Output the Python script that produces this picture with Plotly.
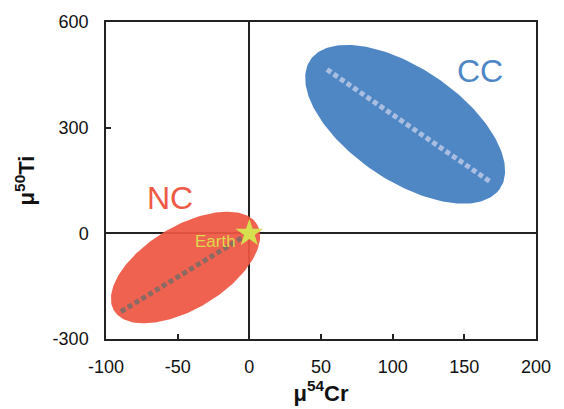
import numpy as np
import plotly.graph_objects as go

# Groups (ellipses): centre and conjugate semi-axis vectors, in data units
groups = ["NC", "CC"]
center_x = [-44.5, 108.7]
center_y = [-97.0, 309.6]
major_dx = [49.7, 65.9]
major_dy = [123.8, -184.2]
minor_dx = [-15.5, 22.8]
minor_dy = [99.0, 129.9]
fill_colors = ["rgba(238,86,66,0.93)", "rgba(79,135,197,1)"]

# Trend lines inside the ellipses
trend_x = [[-89.5, 0.0], [54.2, 168.6]]
trend_y = [[-222.0, 0.0], [465.0, 145.0]]
trend_colors = ["#8A6A62", "#A9BEE0"]

# Labels
label_text = ["NC", "CC"]
label_x = [-55.2, 160.6]
label_y = [100.0, 461.0]
label_colors = ["#EE5A45", "#4F87C5"]

earth_x = [0.0]
earth_y = [0.0]

x_ticks = [-100, -50, 0, 50, 100, 150, 200]
x_ticktext = ["-100", "-50", "0", "50", "100", "150", "200"]
y_ticks = [-300, 0, 300, 600]
y_ticktext = ["-300", "0", "300", "600"]

FONT = "Liberation Sans, Arial, sans-serif"

fig = go.Figure()
t = np.linspace(0, 2 * np.pi, 200)
for i, g in enumerate(groups):
    ex = center_x[i] + major_dx[i] * np.cos(t) + minor_dx[i] * np.sin(t)
    ey = center_y[i] + major_dy[i] * np.cos(t) + minor_dy[i] * np.sin(t)
    fig.add_trace(go.Scatter(x=ex, y=ey, mode="lines", fill="toself",
                             fillcolor=fill_colors[i], line=dict(width=0),
                             hoverinfo="skip", showlegend=False))
for i, g in enumerate(groups):
    fig.add_trace(go.Scatter(x=trend_x[i], y=trend_y[i], mode="lines",
                             line=dict(color=trend_colors[i], width=5, dash="5px,3px"),
                             showlegend=False, hoverinfo="skip"))

fig.add_trace(go.Scatter(x=earth_x, y=earth_y, mode="markers",
                         marker=dict(symbol="star", size=21, color="#D6E04E",
                                     line=dict(width=0)),
                         showlegend=False))

for i in range(len(label_text)):
    fig.add_annotation(x=label_x[i], y=label_y[i], text=label_text[i], showarrow=False,
                       font=dict(family=FONT, size=32, color=label_colors[i]))
fig.add_annotation(x=-23.5, y=-24.5, text="Earth", showarrow=False,
                   font=dict(family=FONT, size=17, color="#DDD94A"))

axis_common = dict(showgrid=False, showline=True, linecolor="#222", linewidth=1.5,
                   mirror=True, ticks="inside", ticklen=5, tickcolor="#222", tickwidth=1.5,
                   zeroline=True, zerolinecolor="#222", zerolinewidth=1.5,
                   tickfont=dict(family=FONT, size=18, color="#111"))

fig.update_xaxes(range=[-100, 200], tickvals=x_ticks, ticktext=x_ticktext,
                 ticklabelstandoff=11,
                 title=dict(text="<b>μ<sup>54</sup>Cr</b>", standoff=4,
                            font=dict(family=FONT, size=22, color="#111")),
                 **axis_common)
fig.update_yaxes(range=[-300, 600], tickvals=y_ticks, ticktext=y_ticktext,
                 ticklabelstandoff=12,
                 title=dict(text="<b>μ<sup>50</sup>Ti</b>", standoff=12,
                            font=dict(family=FONT, size=22, color="#111")),
                 **axis_common)

fig.update_layout(width=564, height=409, margin=dict(l=106, r=28, t=17, b=69),
                  plot_bgcolor="white", paper_bgcolor="white")

fig.write_html("out.html")
